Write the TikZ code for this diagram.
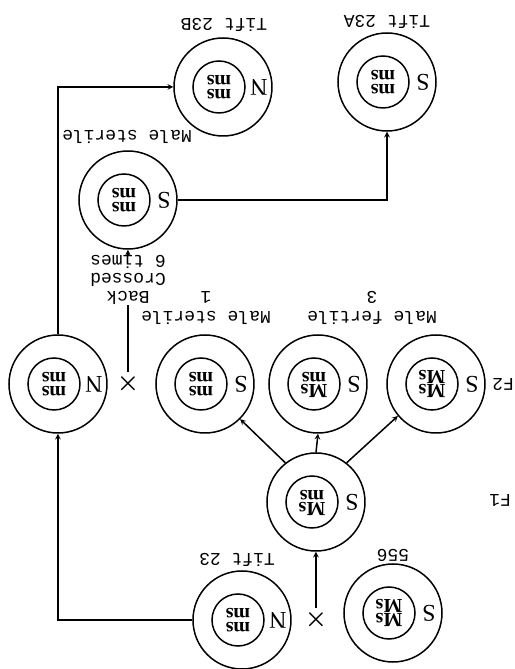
\documentclass[tikz,border=0pt]{standalone}
\usepackage{fontspec}
\setmainfont{Liberation Serif}
\setmonofont{Liberation Mono}
\usetikzlibrary{positioning}

% plant: name, x, y, cytoplasm, upper allele, lower allele
\newcommand{\plant}[6]{%
  \node[outer] (#1) at (#2,#3) {};
  \node[inner] (#1i) at (#2+4,#3) {};
  \node[geno] (#1u) at (#2+4,#3+7) {#5};
  \node[geno] (#1l) at (#2+4,#3-7) {#6};
  \node[cyto] (#1c) at (#2-36,#3) {#4};
}

\begin{document}
\begin{tikzpicture}[x=1pt, y=1pt, rotate=180, transform shape, line width=1.5pt, >=stealth,
  outer/.style={circle, draw, minimum size=98pt, inner sep=0pt},
  inner/.style={circle, draw, minimum size=52pt, inner sep=0pt},
  geno/.style={font=\fontsize{20}{20}\selectfont\bfseries, inner sep=0pt},
  cyto/.style={font=\fontsize{24}{24}\selectfont, inner sep=0pt},
  lbl/.style={font=\fontsize{18}{20}\selectfont\ttfamily, align=center, inner sep=0pt},
  xmark/.style={font=\fontsize{26}{26}\selectfont\boldmath, inner sep=2pt}]

  \useasboundingbox (0,0) rectangle (514,-669);

  % -- Parents --
  \plant{p556}{121}{-56}{S}{Ms}{Ms}
  \plant{t23}{272}{-49}{N}{ms}{ms}
  \node[xmark] (x1) at (198,-49) {$\times$};
  \node[lbl] (l556) at (121,-114) {556};
  \node[lbl] (lt23) at (277,-109) {Tift 23};

  % -- F1 --
  \plant{f1}{198}{-167}{S}{Ms}{ms}
  \node[lbl] (lf1) at (14,-169) {F1};
  \draw[->] (x1) -- (f1);

  % -- F2 --
  \plant{f2a}{78}{-285}{S}{Ms}{Ms}
  \plant{f2b}{196}{-285}{S}{Ms}{ms}
  \plant{f2c}{309}{-285}{S}{ms}{ms}
  \plant{n2}{456}{-285}{N}{ms}{ms}
  \node[xmark] (x2) at (386,-285) {$\times$};
  \node[lbl] (lf2) at (11,-284) {F2};
  \node[lbl] (lfert) at (142,-361) {Male fertile\\3};
  \node[lbl] (lster) at (308,-361) {Male sterile\\1};
  \draw[->] (f1.-128) -- (f2a.40);
  \draw[->] (f1.south) -- (f2b.north);
  \draw[->] (f1.-52) -- (f2c.135);
  \draw[->] (t23.east) -| (n2.north);

  % -- Back cross --
  \plant{bc}{386}{-469}{S}{ms}{ms}
  \node[lbl, font=\fontsize{18}{18}\selectfont\ttfamily] (lbc) at (386,-389) {Back\\Crossed\\6 times};
  \node[lbl] (lbcs) at (387,-532) {Male sterile};
  \draw (x2) -- (lbc);
  \draw[->] (lbc) -- (bc);

  % -- Tift 23A / 23B --
  \plant{t23a}{127}{-587}{S}{ms}{ms}
  \plant{t23b}{291}{-582}{N}{ms}{ms}
  \node[lbl] (lt23a) at (127,-647) {Tift 23A};
  \node[lbl] (lt23b) at (290,-644) {Tift 23B};
  \draw[->] (bc.west) -| (t23a.north);
  \draw[->] (n2.south) |- (t23b.east);

\end{tikzpicture}
\end{document}
